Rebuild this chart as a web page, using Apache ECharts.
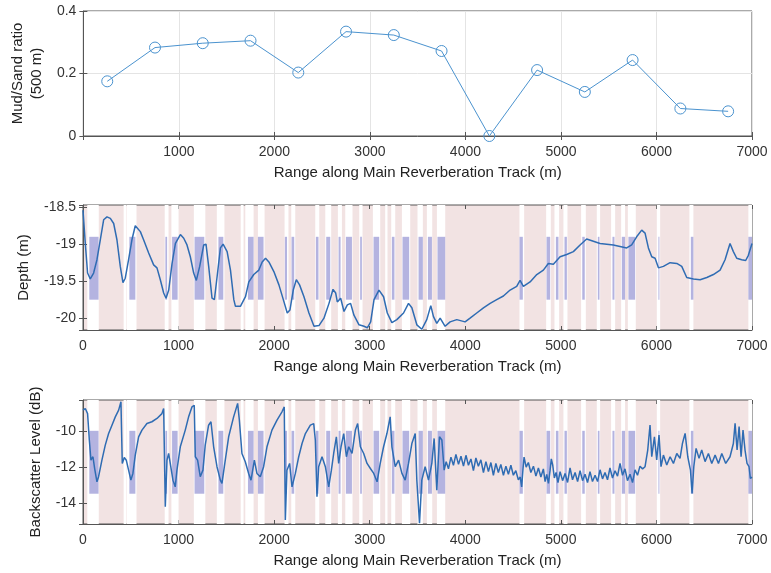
<!DOCTYPE html>
<html>
<head>
<meta charset="UTF-8">
<title>Mud/Sand ratio, depth and backscatter along the track</title>
<script src="https://cdn.jsdelivr.net/npm/echarts@6/dist/echarts.min.js"></script>
</head>
<body style="margin:0;padding:0;background:#fff;">
<div id="container" style="width:771px;height:573px;"></div>
<script>
// top panel: mud/sand ratio per 500 m bin
var ratioRange = [250, 750, 1250, 1750, 2250, 2750, 3250, 3750, 4250, 4750, 5250, 5750, 6250, 6750];
var ratioValues = [0.175, 0.283, 0.297, 0.305, 0.203, 0.334, 0.323, 0.272, 0.0, 0.211, 0.141, 0.243, 0.088, 0.079];

// middle panel: depth profile (m)
var depthRange = [0, 24, 48, 76, 111, 146, 181, 216, 251, 286, 321, 355, 390, 418, 442, 477, 512, 547, 565, 600,
    634, 687, 739, 774, 809, 844, 869, 897, 932, 967, 1019, 1054, 1088, 1123, 1158, 1186, 1221, 1263, 1287, 1315,
    1350, 1375, 1403, 1438, 1466, 1508, 1543, 1578, 1595, 1647, 1700, 1735, 1787, 1840, 1875, 1910, 1945, 1997, 2050, 2103,
    2137, 2165, 2200, 2232, 2266, 2312, 2364, 2417, 2469, 2521, 2574, 2616, 2644, 2661, 2696, 2731, 2766, 2800, 2835, 2888,
    2940, 2975, 3010, 3045, 3097, 3145, 3184, 3232, 3284, 3354, 3406, 3441, 3493, 3545, 3597, 3639, 3667, 3702, 3737, 3789,
    3841, 3911, 3998, 4050, 4120, 4190, 4260, 4329, 4399, 4469, 4538, 4573, 4608, 4678, 4748, 4817, 4869, 4922, 4992, 5061,
    5131, 5201, 5270, 5340, 5410, 5480, 5549, 5619, 5689, 5741, 5793, 5846, 5881, 5916, 5951, 5986, 6021, 6073, 6143, 6213,
    6265, 6317, 6387, 6457, 6527, 6596, 6666, 6718, 6770, 6805, 6840, 6892, 6934, 6962, 7000];
var depthValues = [-18.54, -18.99, -19.39, -19.47, -19.39, -19.21, -18.94, -18.67, -18.63, -18.65, -18.72, -18.94, -19.30, -19.52, -19.46, -19.21, -18.94, -18.75, -18.74, -18.83,
    -18.94, -19.12, -19.28, -19.32, -19.48, -19.66, -19.73, -19.62, -19.26, -18.99, -18.87, -18.92, -19.01, -19.17, -19.39, -19.49, -19.30, -19.01, -19.00, -19.30,
    -19.73, -19.75, -19.44, -19.05, -19.00, -19.10, -19.35, -19.75, -19.84, -19.84, -19.71, -19.51, -19.41, -19.35, -19.24, -19.19, -19.24, -19.37, -19.55, -19.78,
    -19.93, -19.89, -19.62, -19.48, -19.55, -19.71, -19.93, -20.11, -20.10, -20.00, -19.80, -19.61, -19.66, -19.78, -19.73, -19.91, -19.82, -19.80, -19.96, -20.09,
    -20.11, -20.13, -20.05, -19.75, -19.62, -19.71, -19.93, -20.06, -20.02, -19.93, -19.80, -19.86, -20.09, -20.15, -20.02, -19.83, -19.98, -20.07, -20.00, -20.11,
    -20.05, -20.02, -20.05, -20.00, -19.93, -19.86, -19.80, -19.75, -19.70, -19.62, -19.57, -19.49, -19.57, -19.51, -19.41, -19.35, -19.26, -19.27, -19.17, -19.14,
    -19.10, -19.01, -18.93, -18.96, -18.99, -19.00, -19.01, -19.03, -19.05, -19.01, -18.90, -18.81, -18.85, -19.05, -19.17, -19.19, -19.32, -19.30, -19.25, -19.26,
    -19.30, -19.45, -19.47, -19.48, -19.45, -19.41, -19.35, -19.21, -18.99, -19.10, -19.19, -19.21, -19.22, -19.15, -18.99];

// bottom panel: backscatter level (dB)
var bsRange = [0, 24, 48, 66, 83, 104, 122, 146, 163, 198, 233, 268, 303, 338, 373, 397, 411, 432, 453, 477,
    501, 522, 547, 582, 617, 669, 721, 774, 826, 844, 861, 879, 896, 913, 941, 965, 983, 1018, 1070, 1105,
    1140, 1164, 1175, 1199, 1227, 1255, 1279, 1314, 1339, 1367, 1402, 1437, 1454, 1479, 1524, 1576, 1618, 1636, 1663, 1698,
    1733, 1758, 1793, 1820, 1855, 1890, 1925, 1977, 2030, 2082, 2106, 2117, 2134, 2162, 2187, 2222, 2257, 2292, 2327, 2379,
    2414, 2431, 2448, 2466, 2501, 2536, 2571, 2599, 2623, 2651, 2675, 2700, 2728, 2756, 2780, 2815, 2850, 2874, 2902, 2937,
    2972, 3007, 3042, 3077, 3110, 3145, 3180, 3214, 3232, 3267, 3302, 3337, 3371, 3406, 3441, 3476, 3493, 3521, 3545, 3580,
    3615, 3650, 3674, 3702, 3730, 3755, 3779, 3800, 3824, 3850, 3876, 3902, 3929, 3955, 3981, 4007, 4033, 4059, 4085, 4111,
    4137, 4163, 4190, 4216, 4242, 4268, 4294, 4320, 4346, 4372, 4399, 4425, 4451, 4477, 4503, 4529, 4555, 4575, 4590, 4604,
    4615, 4637, 4660, 4686, 4713, 4739, 4765, 4791, 4817, 4835, 4852, 4870, 4887, 4900, 4915, 4932, 4950, 4970, 4992, 5018,
    5044, 5070, 5096, 5122, 5149, 5175, 5201, 5227, 5253, 5279, 5305, 5331, 5358, 5384, 5410, 5436, 5462, 5488, 5514, 5540,
    5567, 5593, 5619, 5645, 5671, 5697, 5724, 5750, 5776, 5802, 5828, 5855, 5881, 5909, 5933, 5951, 5979, 6003, 6027, 6048,
    6073, 6108, 6143, 6178, 6213, 6247, 6272, 6300, 6328, 6356, 6373, 6391, 6415, 6446, 6474, 6509, 6544, 6579, 6614, 6649,
    6684, 6725, 6770, 6805, 6823, 6844, 6865, 6886, 6906, 6927, 6948, 6969, 6983, 7000];
var bsValues = [-8.86, -8.77, -9.05, -10.51, -11.62, -11.43, -12.08, -12.81, -12.53, -11.62, -10.79, -10.15, -9.69, -9.23, -8.86, -8.40, -11.80, -11.47, -11.62, -12.17,
    -12.72, -12.35, -11.34, -10.33, -9.96, -9.60, -9.50, -9.32, -9.05, -8.77, -14.19, -11.62, -11.25, -11.80, -12.72, -13.09, -12.17, -10.88, -9.96, -9.23,
    -8.68, -8.59, -11.43, -11.62, -12.53, -12.17, -10.79, -9.69, -9.50, -10.88, -11.98, -12.72, -12.90, -11.98, -10.33, -9.23, -8.49, -9.41, -11.25, -11.71,
    -12.35, -12.72, -11.62, -12.35, -12.53, -11.98, -10.88, -9.96, -9.41, -8.95, -8.68, -14.92, -12.17, -11.80, -13.09, -12.35, -11.43, -10.70, -10.15, -9.69,
    -9.60, -10.51, -13.64, -11.98, -11.43, -11.98, -13.09, -12.17, -11.25, -10.33, -11.80, -10.88, -10.15, -11.43, -10.88, -11.25, -9.96, -9.60, -10.88, -11.25,
    -11.80, -12.08, -12.35, -12.81, -11.80, -10.88, -10.15, -9.23, -10.88, -11.98, -11.62, -12.35, -12.72, -11.80, -10.70, -10.15, -12.72, -15.10, -12.72, -11.98,
    -12.72, -11.80, -10.42, -13.27, -10.33, -10.51, -12.17, -11.70, -12.10, -11.45, -11.90, -11.30, -11.85, -11.40, -11.95, -11.35, -11.90, -11.55, -12.20, -11.50,
    -11.95, -11.60, -12.30, -11.70, -12.25, -11.75, -12.45, -11.80, -12.30, -11.85, -12.45, -11.95, -12.40, -11.90, -12.45, -12.20, -12.70, -12.55, -13.09, -12.10,
    -11.45, -12.00, -11.75, -12.30, -11.95, -12.50, -12.05, -12.55, -12.10, -12.80, -12.40, -12.90, -12.20, -11.55, -11.90, -12.60, -12.30, -12.85, -12.25, -12.75,
    -12.35, -12.85, -12.05, -12.70, -12.30, -12.80, -12.20, -12.75, -12.40, -12.85, -12.25, -12.80, -12.45, -12.80, -12.15, -12.65, -12.30, -12.70, -12.05, -12.60,
    -12.20, -12.50, -11.80, -12.45, -12.10, -12.75, -12.40, -12.85, -12.15, -12.45, -11.95, -12.10, -11.98, -11.06, -9.68, -11.43, -10.33, -11.61, -10.24, -11.98,
    -11.34, -11.89, -11.43, -11.80, -11.25, -11.52, -10.70, -10.14, -11.43, -12.17, -13.45, -11.98, -10.97, -11.52, -11.06, -11.70, -11.25, -11.80, -11.34, -11.80,
    -11.25, -11.80, -11.43, -10.70, -9.59, -11.06, -9.77, -11.43, -9.96, -11.06, -11.80, -11.98, -12.62, -12.55];

// mud segments (blue bars) and sand gaps (white stripes), in m along track
var mudStart = [66, 485, 862, 932, 1167, 1417, 1726, 1830, 2112, 2182, 2437, 2545, 2674, 2751, 2900, 3040, 3232, 3343, 3511, 3609, 3709, 4567, 4850, 4948, 5038, 5224, 5387, 5540, 5638, 5707, 6021, 6360, 6962];
var mudEnd   = [163, 548, 880, 990, 1269, 1468, 1785, 1889, 2135, 2210, 2464, 2587, 2695, 2814, 2918, 3099, 3259, 3413, 3556, 3651, 3790, 4602, 4888, 4975, 5063, 5250, 5404, 5561, 5672, 5777, 6031, 6387, 7000];
var gapStart = [45, 425, 455, 855, 925, 1160, 1400, 1650, 1698, 1830, 2109, 2179, 2430, 2535, 2667, 2744, 2890, 3033, 3162, 3225, 3337, 3500, 3598, 3703, 4567, 4846, 4933, 5027, 5212, 5376, 5526, 5631, 5701, 6004, 6345, 6962];
var gapEnd   = [165, 450, 560, 895, 1000, 1280, 1480, 1680, 1785, 1900, 2150, 2221, 2472, 2597, 2709, 2820, 2925, 3110, 3186, 3267, 3424, 3556, 3654, 3790, 4616, 4895, 4982, 5069, 5261, 5411, 5568, 5672, 5784, 6039, 6387, 7000];

var depthBar = [-18.9, -19.75];
var bsBar = [-10, -13.47];

var chart = echarts.init(document.getElementById('container'), null, {renderer: 'canvas'});

var FONT = 'Liberation Sans, Arial, Helvetica, sans-serif';
var AXIS_COLOR = '#555';
var PINK = '#f2e3e3';
var BAR = '#b4b3e0';
var LINE = '#2f6cb3';

function pairs(xs, ys) {
    return xs.map(function (x, i) { return [x, ys[i]]; });
}

function bands(bar) {
    var areas = [];
    for (var i = 0; i < gapStart.length; i++) {
        areas.push([{xAxis: gapStart[i], itemStyle: {color: '#ffffff'}}, {xAxis: gapEnd[i]}]);
    }
    for (var j = 0; j < mudStart.length; j++) {
        areas.push([{xAxis: mudStart[j], yAxis: bar[0], itemStyle: {color: BAR}}, {xAxis: mudEnd[j], yAxis: bar[1]}]);
    }
    return areas;
}

var grids = [
    {left: 83, top: 11, width: 669, height: 125},
    {left: 83, top: 205, width: 669, height: 125},
    {left: 83, top: 400, width: 669, height: 124}
];
grids.forEach(function (g, i) {
    g.show = true;
    g.borderColor = AXIS_COLOR;
    g.borderWidth = 1;
    g.backgroundColor = i === 0 ? '#fff' : PINK;
});

var xName = 'Range along Main Reverberation Track (m)';

function xAxisFor(gi, top) {
    return {
        type: 'value', gridIndex: gi, min: 0, max: 7000, interval: 1000,
        position: top ? 'top' : 'bottom',
        name: top ? '' : xName, nameLocation: 'middle', nameGap: 29,
        nameTextStyle: {fontFamily: FONT, fontSize: 15, color: '#222'},
        axisLine: {show: !top, lineStyle: {color: AXIS_COLOR}},
        axisTick: {show: true, inside: true, length: 4, lineStyle: {color: AXIS_COLOR}},
        axisLabel: {
            show: !top, fontFamily: FONT, fontSize: 14, color: '#333', margin: 9,
            formatter: function (v) { return (gi === 0 && v === 0) ? '' : String(v); }
        },
        splitLine: {show: gi === 0 && !top, lineStyle: {color: '#e4e4e4'}}
    };
}

function yAxisFor(gi, right, cfg) {
    var ax = {
        type: 'value', gridIndex: gi, min: cfg.min, max: cfg.max,
        position: right ? 'right' : 'left',
        name: right ? '' : cfg.name, nameLocation: 'middle', nameGap: cfg.gap, nameRotate: 90,
        nameTextStyle: {fontFamily: FONT, fontSize: 15, color: '#222', lineHeight: 19},
        axisLine: {show: !right, lineStyle: {color: AXIS_COLOR}},
        axisTick: {show: true, inside: true, length: 4, lineStyle: {color: AXIS_COLOR}},
        axisLabel: {show: !right, fontFamily: FONT, fontSize: 14, color: '#333', margin: 7,
            showMinLabel: cfg.edgeLabels, showMaxLabel: cfg.edgeLabels},
        splitLine: {show: gi === 0 && !right, lineStyle: {color: '#e4e4e4'}}
    };
    if (cfg.interval) ax.interval = cfg.interval;
    if (cfg.splitNumber) ax.splitNumber = cfg.splitNumber;
    return ax;
}

var yCfg = [
    {min: 0, max: 0.4, interval: 0.2, name: 'Mud/Sand ratio\n(500 m)', gap: 35, edgeLabels: true},
    {min: -20.16, max: -18.47, splitNumber: 4, name: 'Depth (m)', gap: 48, edgeLabels: false},
    {min: -15.14, max: -8.3, splitNumber: 3, name: 'Backscatter Level (dB)', gap: 34, edgeLabels: false}
];

var option = {
    animation: false,
    grid: grids,
    xAxis: [xAxisFor(0, false), xAxisFor(1, false), xAxisFor(2, false),
            xAxisFor(0, true), xAxisFor(1, true), xAxisFor(2, true)],
    yAxis: [yAxisFor(0, false, yCfg[0]), yAxisFor(1, false, yCfg[1]), yAxisFor(2, false, yCfg[2]),
            yAxisFor(0, true, yCfg[0]), yAxisFor(1, true, yCfg[1]), yAxisFor(2, true, yCfg[2])],
    series: [
        {
            name: 'ratio', type: 'line', xAxisIndex: 0, yAxisIndex: 0,
            data: pairs(ratioRange, ratioValues),
            symbol: 'circle', symbolSize: 11, showAllSymbol: true,
            lineStyle: {color: '#4b93cf', width: 1},
            itemStyle: {color: 'rgba(0,0,0,0)', borderColor: '#4b93cf', borderWidth: 1},
            clip: false, z: 3
        },
        {
            name: 'depthBands', type: 'line', xAxisIndex: 1, yAxisIndex: 1, data: [], z: 1, silent: true,
            markArea: {silent: true, label: {show: false}, data: bands(depthBar)}
        },
        {
            name: 'depth', type: 'line', xAxisIndex: 1, yAxisIndex: 1,
            data: pairs(depthRange, depthValues), showSymbol: false,
            lineStyle: {color: LINE, width: 1.5}, z: 5
        },
        {
            name: 'bsBands', type: 'line', xAxisIndex: 2, yAxisIndex: 2, data: [], z: 1, silent: true,
            markArea: {silent: true, label: {show: false}, data: bands(bsBar)}
        },
        {
            name: 'backscatter', type: 'line', xAxisIndex: 2, yAxisIndex: 2,
            data: pairs(bsRange, bsValues), showSymbol: false,
            lineStyle: {color: LINE, width: 1.5}, z: 5
        }
    ]
};
chart.setOption(option);
</script>
</body>
</html>
